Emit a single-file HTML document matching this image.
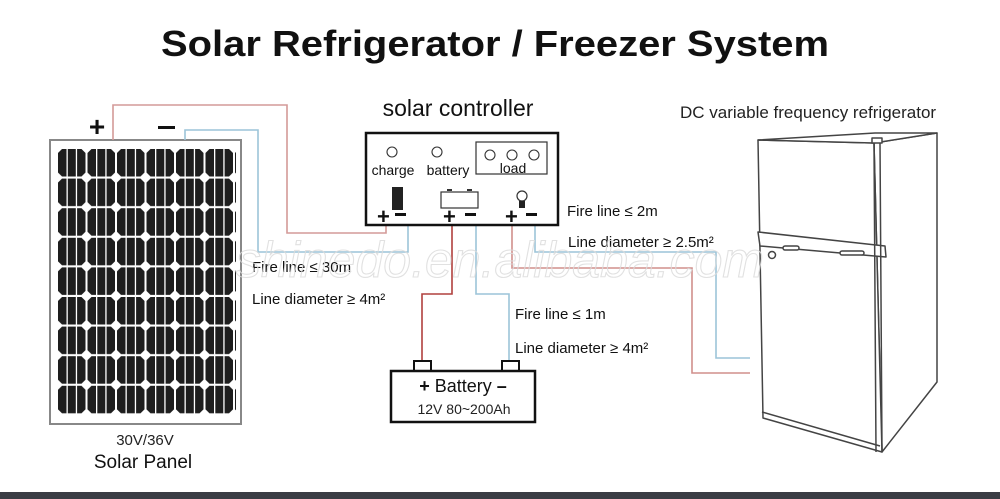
<!DOCTYPE html>
<html><head><meta charset="utf-8"><style>
html,body{margin:0;padding:0;background:#fff;}
body{width:1000px;height:499px;overflow:hidden;position:relative;font-family:"Liberation Sans",Arial,sans-serif;}
</style></head><body>
<svg width="1000" height="499" viewBox="0 0 1000 499" xmlns="http://www.w3.org/2000/svg" style="position:absolute;left:0;top:0">
<defs>
<pattern id="cell" x="58" y="149" width="29.5" height="29.6" patternUnits="userSpaceOnUse">
<polygon points="4,0 23.5,0 27.5,4 27.5,23.5 23.5,27.5 4,27.5 0,23.5 0,4" fill="#1e1e1e"/>
<rect x="8.5" y="0" width="1.3" height="28" fill="#fff"/>
<rect x="17.8" y="0" width="1.3" height="28" fill="#fff"/>
</pattern>
</defs>
<rect width="1000" height="499" fill="#fff"/>
<text x="161" y="56" font-size="36" font-weight="bold" textLength="668" lengthAdjust="spacingAndGlyphs" fill="#111">Solar Refrigerator / Freezer System</text>
<rect x="0" y="492" width="1000" height="7" fill="#3a3d44"/>
<!-- panel -->
<rect x="50" y="140" width="191" height="284" fill="#fff" stroke="#888" stroke-width="2"/>
<rect x="58" y="149" width="178" height="266" fill="url(#cell)"/>
<text x="97" y="136" font-size="28" font-weight="bold" text-anchor="middle" fill="#111">+</text>
<rect x="158" y="126" width="17" height="3" fill="#111"/>
<text x="145" y="445" font-size="15" text-anchor="middle" fill="#222">30V/36V</text>
<text x="143" y="468" font-size="19" text-anchor="middle" fill="#111">Solar Panel</text>
<!-- wires -->
<g fill="none" stroke-width="1.6">
<polyline points="113,140 113,105 287,105 287,233 386,233 386,224" stroke="#d49a98"/>
<polyline points="185,140 185,130 258,130 258,252 408,252 408,224" stroke="#9cc4d8"/>
<polyline points="452,224 452,294 422,294 422,362" stroke="#b0403e"/>
<polyline points="476,224 476,294 509,294 509,362" stroke="#9cc4d8"/>
<polyline points="512,224 512,268 692,268 692,373 750,373" stroke="#d08f8c"/>
<polyline points="535,224 535,252 716,252 716,358 750,358" stroke="#9cc4d8"/>
</g>
<!-- controller -->
<text x="458" y="116" font-size="23" text-anchor="middle" fill="#111">solar controller</text>
<rect x="366" y="133" width="192" height="92" fill="#fff" stroke="#111" stroke-width="2.5"/>
<rect x="476" y="142" width="71" height="32" fill="none" stroke="#333" stroke-width="1.2"/>
<g fill="none" stroke="#333" stroke-width="1.1">
<circle cx="392" cy="152" r="5"/><circle cx="437" cy="152" r="5"/>
<circle cx="490" cy="155" r="5"/><circle cx="512" cy="155" r="5"/><circle cx="534" cy="155" r="5"/>
</g>
<text x="393" y="175" font-size="14" text-anchor="middle" fill="#111">charge</text>
<text x="448" y="175" font-size="14" text-anchor="middle" fill="#111">battery</text>
<text x="513" y="173" font-size="14" text-anchor="middle" fill="#111">load</text>
<rect x="392" y="187" width="11" height="23" fill="#222"/>
<rect x="441" y="192" width="37" height="16" fill="#fff" stroke="#333" stroke-width="1.2"/>
<rect x="447" y="189" width="5" height="2" fill="#333"/><rect x="467" y="189" width="5" height="2" fill="#333"/>
<circle cx="522" cy="196" r="5" fill="none" stroke="#333" stroke-width="1.2"/>
<rect x="519" y="201" width="6" height="7" fill="#222"/>
<g font-size="22" font-weight="bold" fill="#111">
<text x="377" y="224">+</text><rect x="395" y="213" width="11" height="3"/>
<text x="443" y="224">+</text><rect x="465" y="213" width="11" height="3"/>
<text x="505" y="224">+</text><rect x="526" y="213" width="11" height="3"/>
</g>
<!-- labels -->
<g font-size="15" fill="#111">
<text x="567" y="216">Fire line ≤ 2m</text>
<text x="568" y="247">Line diameter ≥ 2.5m²</text>
<text x="252" y="272">Fire line ≤ 30m</text>
<text x="252" y="304">Line diameter ≥ 4m²</text>
<text x="515" y="319">Fire line ≤ 1m</text>
<text x="515" y="353">Line diameter ≥ 4m²</text>
</g>
<text x="680" y="118" font-size="17" fill="#222">DC variable frequency refrigerator</text>
<!-- battery -->
<rect x="414" y="361" width="17" height="10" fill="#fff" stroke="#111" stroke-width="2"/>
<rect x="502" y="361" width="17" height="10" fill="#fff" stroke="#111" stroke-width="2"/>
<rect x="391" y="371" width="144" height="51" fill="#fff" stroke="#111" stroke-width="2.5"/>
<text x="463" y="392" font-size="18" text-anchor="middle" fill="#111"><tspan font-weight="bold">+</tspan> Battery <tspan font-weight="bold">–</tspan></text>
<text x="464" y="414" font-size="14" text-anchor="middle" fill="#222">12V 80~200Ah</text>
<!-- fridge -->
<g fill="#fff" stroke="#444" stroke-width="1.5" stroke-linejoin="round">
<polygon points="874,143 937,133 937,382 882,452"/>
<polygon points="758,140 874,143 882,452 763,418"/>
<polygon points="758,140 875,133 937,133 874,143"/>
<path d="M758,232 L885,246 L886,257 L760,246 Z"/>
<path d="M874,143 L876,452 M880,143 L882,452" fill="none"/>
<path d="M762,412 L880,446" fill="none"/>
<circle cx="772" cy="255" r="3.5"/>
<rect x="783" y="246" width="16" height="4" rx="2"/>
<rect x="840" y="251" width="24" height="4" rx="2"/>
<rect x="872" y="138" width="10" height="5"/>
</g>
<text x="500" y="277" font-size="50" font-style="italic" text-anchor="middle" fill="none" stroke="#dcdcdc" stroke-width="1.1" opacity="0.85">shinedo.en.alibaba.com</text>
</svg>
</body></html>
